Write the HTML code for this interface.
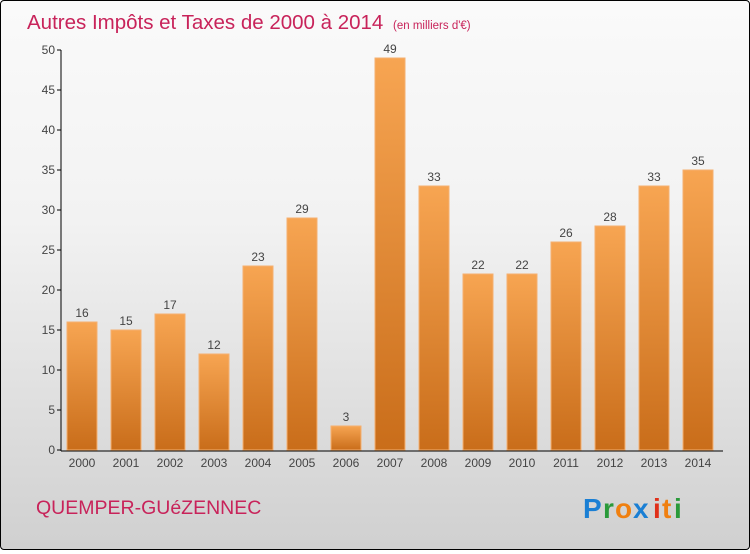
<!DOCTYPE html>
<html><head><meta charset="utf-8"><style>
body{margin:0;width:750px;height:550px;overflow:hidden}
#wrap{position:relative;width:748px;height:548px;border:1px solid #000;border-radius:4px;background:linear-gradient(#fafafa,#f2f2f2 40%,#d0d0d0);font-family:"Liberation Sans",sans-serif}
</style></head><body>
<div id="wrap">
<svg id="chart" width="748" height="548">
<defs><linearGradient id="bg" x1="0" y1="0" x2="0" y2="1"><stop offset="0" stop-color="#f7a552"/><stop offset="1" stop-color="#c96d1a"/></linearGradient></defs>
<text x="26" y="28" font-size="20.5" fill="#c8235a">Autres Impôts et Taxes de 2000 à 2014 <tspan font-size="11.5" dx="4">(en milliers d'€)</tspan></text>
<text x="35" y="513" font-size="19.5" fill="#c8235a">QUEMPER-GUéZENNEC</text>
<g font-size="28" font-family="'Liberation Sans',sans-serif" font-weight="bold">
<text x="582" y="517" fill="#1a7fd4">P</text><text x="602" y="517" fill="#2a9a3a">r</text><text x="614" y="517" fill="#f08010">o</text><text x="632" y="517" fill="#1a7fd4">x</text><text x="652" y="517" fill="#e0301a">i</text><text x="661" y="517" fill="#f08010">t</text><text x="673" y="517" fill="#2a9a3a">i</text></g>
<g id="plot"></g>
</svg></div>
<script>
const years=["2000","2001","2002","2003","2004","2005","2006","2007","2008","2009","2010","2011","2012","2013","2014"];
const values=[16,15,17,12,23,29,3,49,33,22,22,26,28,33,35];
const yTicks=[0,5,10,15,20,25,30,35,40,45,50];
const NS="http://www.w3.org/2000/svg";
const g=document.getElementById('plot');
const y=v=>449-v*8, x=i=>81+i*44;
function el(t,a){const e=document.createElementNS(NS,t);for(const k in a)e.setAttribute(k,a[k]);g.appendChild(e);return e;}
const ax=el('line',{x1:60,y1:y(50),x2:60,y2:y(0)+1,stroke:'#000'});


const bx=el('line',{x1:60,y1:y(0)+1,x2:722,y2:y(0)+1,stroke:'#000'});


yTicks.forEach(v=>{
 const t=el('line',{x1:56,x2:60,y1:y(v),y2:y(v),stroke:'#000'});
 
 
 const l=el('text',{x:54,y:y(v)+4,'font-size':12,'text-anchor':'end',fill:'#444'});l.textContent=v;
 
 
});
values.forEach((v,i)=>{
 const r=el('rect',{x:x(i)-15,y:y(v),width:30,height:v*8,fill:'url(#bg)',stroke:'#f5b070','stroke-width':1});
 
 
 const t=el('text',{x:x(i),y:y(v)-5,'font-size':12,'text-anchor':'middle',fill:'#444'});t.textContent=v;
 
 
 const xl=el('text',{x:x(i),y:466,'font-size':12,'text-anchor':'middle',fill:'#444'});xl.textContent=years[i];
 
 
});
</script></body></html>
